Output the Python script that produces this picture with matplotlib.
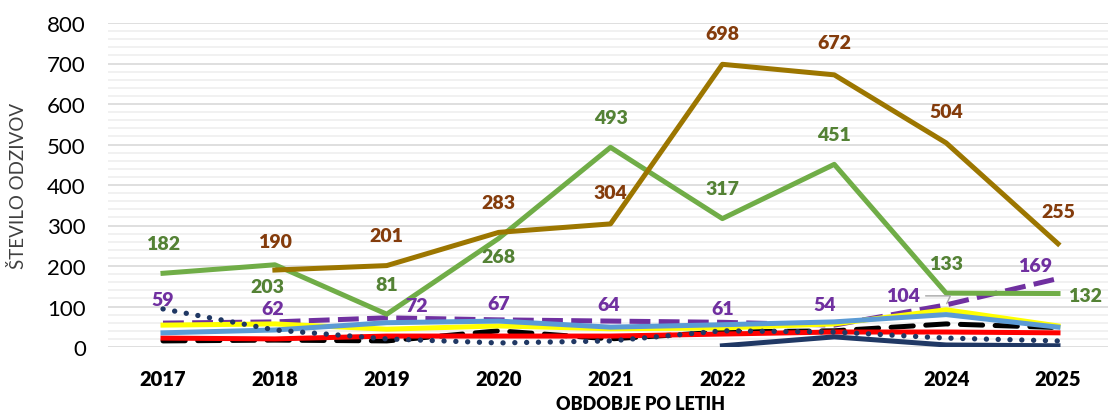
import numpy as np
from matplotlib import pyplot as plt
from matplotlib.ticker import MultipleLocator

plt.rcParams['font.family'] = ['Lato', 'DejaVu Sans']
plt.rcParams['lines.scale_dashes'] = False

years = [2017, 2018, 2019, 2020, 2021, 2022, 2023, 2024, 2025]
nan = np.nan

# number of responses per series
green_vals = [182, 203, 81, 268, 493, 317, 451, 133, 132]
brown_vals = [nan, 190, 201, 283, 304, 698, 672, 504, 255]
purple_vals = [59, 62, 72, 67, 64, 61, 54, 104, 169]
yellow_vals = [54, 57, 44, 52, 45, 47, 57, 92, 52]
blue_vals = [35, 42, 60, 64, 49, 55, 62, 80, 49]
black_vals = [15, 17, 15, 40, 20, 37, 40, 57, 48]
red_vals = [22, 20, 27, 27, 27, 32, 37, 37, 35]
navy_dot_vals = [94, 42, 20, 10, 15, 40, 37, 22, 15]
navy_vals = [nan, nan, nan, nan, nan, 3, 25, 5, 3]

# label offsets in pixels (dx, dy) for the labelled series
green_off = [(0, 30), (-8, -22), (0, 30), (0, -18), (0, 30), (0, 30), (0, 30), (0, 30), (27, -2)]
brown_off = [None, (0, 29), (0, 30), (0, 30), (0, 31), (0, 31), (0, 32), (0, 31), (0, 32)]
purple_off = [(0, 24), (-2, 13), (30, 12), (0, 16), (-2, 17), (0, 14), (-10, 21), None, (-23, 13)]

fig = plt.figure(figsize=(11.08, 4.14), dpi=100)
ax = fig.add_axes([108 / 1108, 66 / 414, 1000 / 1108, 324 / 414])

lw = 3.6
ax.plot(years, black_vals, color='black', lw=lw, dashes=(16, 9), dash_capstyle='round', zorder=3)
ax.plot(years, red_vals, color='#FF0000', lw=lw, zorder=3)
ax.plot(years, purple_vals, color='#7030A0', lw=lw, dashes=(15, 6), zorder=3)
ax.plot(years, yellow_vals, color='#FFFF00', lw=lw, zorder=3)
ax.plot(years, blue_vals, color='#5B9BD5', lw=lw, zorder=3)
ax.plot(years, navy_dot_vals, color='#203864', lw=3.8, dashes=(0.1, 8.4), dash_capstyle='round', zorder=3)
ax.plot(years, navy_vals, color='#203864', lw=lw, zorder=3)
ax.plot(years, green_vals, color='#70AD47', lw=lw, zorder=3)
ax.plot(years, brown_vals, color='#9C7600', lw=lw, zorder=3)


def add_labels(vals, offs, color):
    for x, v, off in zip(years, vals, offs):
        if off is None or np.isnan(v):
            continue
        ax.annotate(str(int(v)), (x, v), xytext=off, textcoords='offset pixels',
                    ha='center', va='center', color=color, fontsize=14,
                    fontweight='heavy', zorder=5)


add_labels(green_vals, green_off, '#548235')
add_labels(brown_vals, brown_off, '#843C0C')
add_labels(purple_vals, purple_off, '#7030A0')

# 2024 purple label sits to the left, with a leader line
ax.annotate(str(purple_vals[7]), (2024, purple_vals[7]), xytext=(-43, 9), textcoords='offset pixels',
            ha='center', va='center', color='#7030A0', fontsize=14, fontweight='heavy', zorder=5,
            arrowprops=dict(arrowstyle='-', color='#A6A6A6', lw=1, shrinkA=2, shrinkB=1,
                            relpos=(1, 0.5),
                            connectionstyle='angle,angleA=0,angleB=65,rad=0'))

ax.set_xlim(2017 - 55 / 111.875, 2025 + 50 / 111.875)
ax.set_ylim(0, 800)
ax.yaxis.set_major_locator(MultipleLocator(100))
ax.yaxis.set_minor_locator(MultipleLocator(20))
ax.set_xticks(years)
ax.grid(axis='y', which='major', color='#D9D9D9', lw=1.2, zorder=0)
ax.grid(axis='y', which='minor', color='#EFEFEF', lw=1.2, zorder=0)
ax.set_axisbelow(True)
for s in ax.spines.values():
    s.set_visible(False)

ax.tick_params(axis='y', which='both', length=0, labelsize=16, pad=16)
ax.tick_params(axis='x', length=0, labelsize=14.5, pad=16)
for t in ax.get_xticklabels():
    t.set_fontweight('heavy')

ax.set_ylabel('ŠTEVILO ODZIVOV', fontsize=13.5, color='#404040', va='center')
ax.yaxis.set_label_coords(-0.09, 0.5)
fig.text(640 / 1108, 9 / 414, 'OBDOBJE PO LETIH', ha='center', va='center',
         fontsize=13, fontweight='heavy')

fig.savefig('out.png', dpi=100)
